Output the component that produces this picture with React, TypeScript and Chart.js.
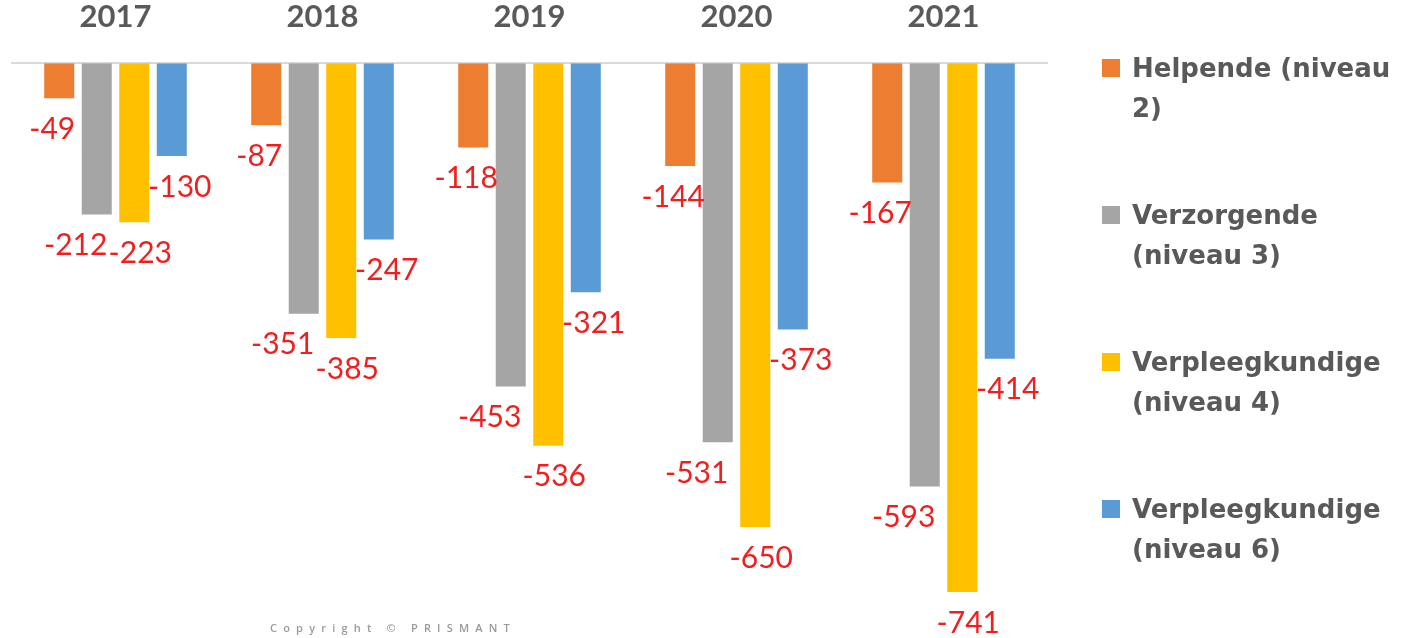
import React, { useEffect, useRef } from "react";
import { Chart, registerables } from "chart.js";

Chart.register(...registerables);

const years = ["2017", "2018", "2019", "2020", "2021"];
const helpende = [-49, -87, -118, -144, -167];
const verzorgende = [-212, -351, -453, -531, -593];
const verpleeg4 = [-223, -385, -536, -650, -741];
const verpleeg6 = [-130, -247, -321, -373, -414];
const seriesNames = [
  ["Helpende (niveau", "2)"],
  ["Verzorgende", "(niveau 3)"],
  ["Verpleegkundige", "(niveau 4)"],
  ["Verpleegkundige", "(niveau 6)"],
];
const colors = ["#ED7D31", "#A5A5A5", "#FFC000", "#5B9BD5"];
const labelOffsetX = [-7, -21, 6, 8];

const valueLabels = {
  id: "valueLabels",
  afterDatasetsDraw(chart: any) {
    const ctx = chart.ctx;
    ctx.save();
    ctx.font = "30px Lato";
    ctx.fillStyle = "#F21E1E";
    ctx.textAlign = "center";
    ctx.textBaseline = "middle";
    chart.data.datasets.forEach((ds: any, di: number) => {
      const meta = chart.getDatasetMeta(di);
      meta.data.forEach((bar: any, i: number) => {
        ctx.fillText(String(ds.data[i]), bar.x + labelOffsetX[di], bar.y + 31);
      });
    });
    ctx.restore();
  },
};

export default function App() {
  const ref = useRef<HTMLCanvasElement>(null);
  useEffect(() => {
    const chart = new Chart(ref.current!, {
      type: "bar",
      data: {
        labels: years,
        datasets: [helpende, verzorgende, verpleeg4, verpleeg6].map((d, i) => ({
          label: seriesNames[i].join(" "),
          data: d,
          backgroundColor: colors[i],
          barPercentage: 0.8,
          categoryPercentage: 0.725,
        })),
      },
      options: {
        animation: false,
        responsive: false,
        layout: { padding: { left: 12, right: 376, top: -30, bottom: 46 } },
        plugins: { legend: { display: false }, tooltip: { enabled: false } },
        scales: {
          x: {
            position: "top",
            grid: { display: false, drawTicks: false },
            border: { display: true, color: "#D9D9D9", width: 2 },
            ticks: {
              color: "#595959",
              font: { family: "Lato", size: 31, weight: "bold" },
              padding: 28,
            },
          },
          y: { display: false, min: -741, max: 0 },
        },
      },
      plugins: [valueLabels],
    });
    return () => chart.destroy();
  }, []);

  return (
    <div style={{ position: "absolute", left: 0, top: 0, width: 1423, height: 638, background: "#fff" }}>
      <canvas ref={ref} width={1423} height={638} style={{ position: "absolute", left: 0, top: 0 }} />
      <div style={{ position: "absolute", left: 1102, top: 0, fontFamily: "DejaVu Sans", fontWeight: "bold", fontSize: 26, color: "#595959" }}>
        {seriesNames.map((n, i) => (
          <div key={i} style={{ position: "absolute", top: 48 + i * 147, left: 0, width: 320 }}>
            <span style={{ position: "absolute", left: 0, top: 11, width: 18, height: 18, background: colors[i] }} />
            <div style={{ position: "absolute", left: 30, top: 0, lineHeight: "40px", whiteSpace: "nowrap" }}>
              {n[0]}
              <br />
              {n[1]}
            </div>
          </div>
        ))}
      </div>
      <div style={{ position: "absolute", left: 270, top: 620, fontFamily: "Open Sans", fontSize: 11, letterSpacing: 6.2, color: "#9A9A9A", whiteSpace: "nowrap", fontWeight: 600 }}>
        Copyright © PRISMANT
      </div>
    </div>
  );
}
